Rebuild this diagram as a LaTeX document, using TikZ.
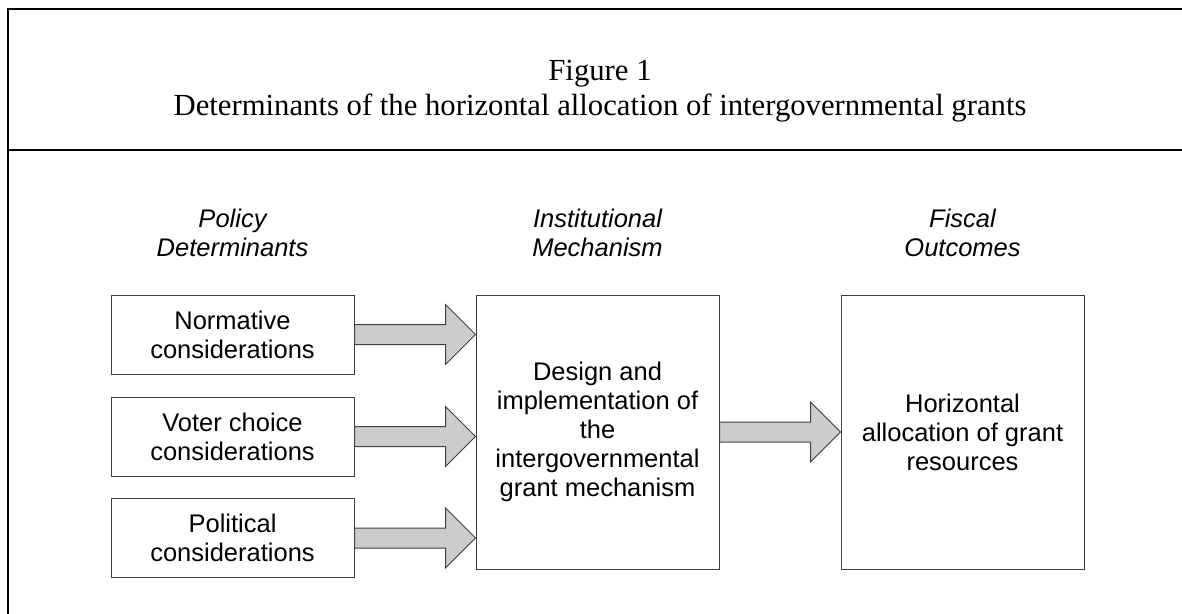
\documentclass[tikz,border=0pt]{standalone}
\usepackage{fontspec}
\setmainfont{Liberation Serif}
\setsansfont{Liberation Sans}
\usetikzlibrary{calc}

% block arrow from the east side of #1 to the west side of #2
\newcommand{\fatarrow}[2]{%
  \draw[fat] ($(#1.east)+(0,-10)$) -- ($(#1.east -| #2.west)+(-30,-10)$)
    -- ($(#1.east -| #2.west)+(-30,-30)$) -- (#1.east -| #2.west)
    -- ($(#1.east -| #2.west)+(-30,30)$) -- ($(#1.east -| #2.west)+(-30,10)$)
    -- ($(#1.east)+(0,10)$) -- cycle;}

\begin{document}
\begin{tikzpicture}[x=1pt, y=-1pt,
    frame/.style={line width=2pt, black},
    heading/.style={font=\fontsize{30.7}{35}\selectfont, inner sep=0pt, anchor=base},
    colhead/.style={font=\sffamily\itshape\fontsize{25.5}{29}\selectfont, align=center, inner sep=0pt, anchor=south},
    box/.style={draw=black!75, line width=1pt, fill=white, font=\sffamily\fontsize{25.5}{29}\selectfont, align=center, minimum width=243pt, inner sep=0pt},
    smallbox/.style={box, minimum height=79pt},
    bigbox/.style={box, minimum height=274pt},
    fat/.style={draw=black!75, line width=1pt, fill=black!20, line join=miter}]

  \useasboundingbox (0,0) rectangle (1182,613);
  \fill[white] (0,0) rectangle (1182,613);

  % frame and title
  \draw[frame] (8,620) -- (8,9) -- (1190,9);
  \draw[frame] (8,150) -- (1190,150);
  \node[heading] (fignum) at (600,80) {Figure 1};
  \node[heading] (figtitle) at (600,115) {Determinants of the horizontal allocation of intergovernmental grants};

  % column headings
  \node[colhead] (policy) at (232.5,257) {Policy\\Determinants};
  \node[colhead] (inst) at (597.5,257) {Institutional\\Mechanism};
  \node[colhead] (fiscal) at (962.5,257) {Fiscal\\Outcomes};

  % boxes
  \node[smallbox] (norm) at (232.5,334.5) {Normative\\considerations};
  \node[smallbox] (voter) at (232.5,436.5) {Voter choice\\considerations};
  \node[smallbox] (polit) at (232.5,538) {Political\\considerations};
  \node[bigbox] (mech) at (597.5,432) {Design and\\implementation of\\the\\intergovernmental\\grant mechanism};
  \node[bigbox] (alloc) at (962.5,432) {Horizontal\\allocation of grant\\resources};

  % arrows
  \fatarrow{norm}{mech}
  \fatarrow{voter}{mech}
  \fatarrow{polit}{mech}
  \fatarrow{mech}{alloc}
\end{tikzpicture}
\end{document}
